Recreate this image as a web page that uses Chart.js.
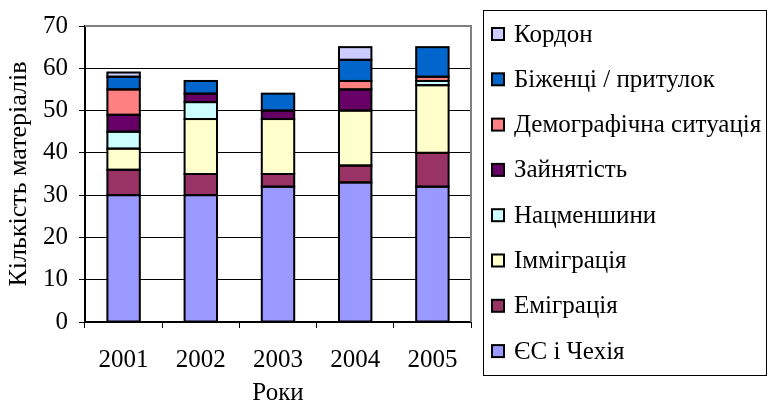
<!DOCTYPE html>
<html>
<head>
<meta charset="utf-8">
<script src="https://cdn.jsdelivr.net/npm/chart.js"></script>
<style>
  html, body { margin: 0; padding: 0; background: #fff; }
  #wrap { width: 767px; height: 408px; position: relative; }
</style>
</head>
<body>
<div id="wrap"><canvas id="materialsChart"></canvas></div>
<script>
// Stacked columns: number of materials per topic, by year
const years = ['2001', '2002', '2003', '2004', '2005'];
const yTicks = [0, 10, 20, 30, 40, 50, 60, 70];

// null = topic absent that year
const euCzech     = [30, 30, 32, 33, 32];
const emigration  = [6, 5, 3, 4, 8];
const immigration = [5, 13, 13, 13, 16];
const minorities  = [4, 4, null, null, 1];
const employment  = [4, 2, 2, 5, null];
const demography  = [6, null, null, 2, 1];
const refugees    = [3, 3, 4, 5, 7];
const border      = [1, null, null, 3, null];

const FONT = "'Liberation Serif', 'Times New Roman', serif";
const FSIZE = 25;

function series(label, data, color) {
    return {
        label: label,
        data: data,
        backgroundColor: color,
        borderWidth: 0,
        inflateAmount: 0,
        categoryPercentage: 1,
        barPercentage: 0.42
    };
}

// black 2px outline centred on segment edges (shared between stacked pieces)
const segmentOutline = {
    id: 'segmentOutline',
    afterDatasetsDraw(chart) {
        const c = chart.ctx;
        c.save();
        c.strokeStyle = '#000';
        c.lineWidth = 2;
        chart.data.datasets.forEach((ds, i) => {
            const meta = chart.getDatasetMeta(i);
            meta.data.forEach((bar, j) => {
                if (ds.data[j] == null) return;
                const p = bar.getProps(['x', 'y', 'base', 'width'], true);
                c.strokeRect(p.x - p.width / 2, p.y, p.width, p.base - p.y);
            });
        });
        c.restore();
    }
};

// legend in a box on the right, top item = last series
const boxLegend = {
    id: 'boxLegend',
    afterDraw(chart) {
        const c = chart.ctx;
        const area = chart.chartArea;
        c.save();
        // plot frame (top and right, grey)
        c.strokeStyle = '#808080';
        c.lineWidth = 2;
        c.beginPath();
        c.moveTo(area.left, area.top);
        c.lineTo(area.right, area.top);
        c.lineTo(area.right, area.bottom);
        c.stroke();

        c.strokeStyle = '#000';
        c.lineWidth = 1;
        c.strokeRect(483.5, 10.5, 283, 365);

        const sets = chart.data.datasets.slice().reverse();
        c.font = FSIZE + 'px ' + FONT;
        c.textBaseline = 'middle';
        sets.forEach((ds, i) => {
            const y = 34 + i * 45.3;
            c.fillStyle = ds.backgroundColor;
            c.fillRect(492, y - 6, 12, 12);
            c.strokeStyle = '#000';
            c.lineWidth = 2;
            c.strokeRect(492, y - 6, 12, 12);
            c.fillStyle = '#000';
            c.fillText(ds.label, 514, y + 1);
        });
        c.restore();
    }
};

new Chart(document.getElementById('materialsChart'), {
    type: 'bar',
    data: {
        labels: years,
        datasets: [
            series('ЄС і Чехія', euCzech, '#9999FF'),
            series('Еміграція', emigration, '#993366'),
            series('Імміграція', immigration, '#FFFFCC'),
            series('Нацменшини', minorities, '#CCFFFF'),
            series('Зайнятість', employment, '#660066'),
            series('Демографічна ситуація', demography, '#FF8080'),
            series('Біженці / притулок', refugees, '#0066CC'),
            series('Кордон', border, '#CCCCFF')
        ]
    },
    options: {
        responsive: true,
        maintainAspectRatio: false,
        animation: false,
        layout: { padding: { left: 0, right: 296, top: 24, bottom: 0 } },
        plugins: {
            legend: { display: false },
            tooltip: { enabled: false }
        },
        scales: {
            x: {
                stacked: true,
                afterFit: (s) => { s.height = 86; },
                grid: {
                    offset: true,
                    drawOnChartArea: false,
                    color: '#000',
                    tickLength: 6
                },
                border: { color: '#000', width: 2 },
                ticks: {
                    color: '#000',
                    padding: 17,
                    font: { family: FONT, size: FSIZE }
                },
                title: {
                    display: true,
                    text: 'Роки',
                    color: '#000',
                    padding: { top: 0, bottom: 0 },
                    font: { family: FONT, size: FSIZE }
                }
            },
            y: {
                stacked: true,
                min: 0,
                max: 70,
                afterFit: (s) => { s.width = 85; },
                afterBuildTicks: (s) => { s.ticks = yTicks.map(v => ({ value: v })); },
                grid: {
                    color: (ctx) => ctx.tick && ctx.tick.value === 70 ? '#808080' : '#000',
                    tickColor: '#000',
                    tickLength: 6,
                    lineWidth: 1
                },
                border: { color: '#000', width: 2 },
                ticks: {
                    color: '#000',
                    padding: 11,
                    font: { family: FONT, size: FSIZE }
                },
                title: {
                    display: true,
                    text: 'Кількість матеріалів',
                    color: '#000',
                    padding: { top: 4, bottom: 0 },
                    font: { family: FONT, size: 26 }
                }
            }
        }
    },
    plugins: [segmentOutline, boxLegend]
});
</script>
</body>
</html>
